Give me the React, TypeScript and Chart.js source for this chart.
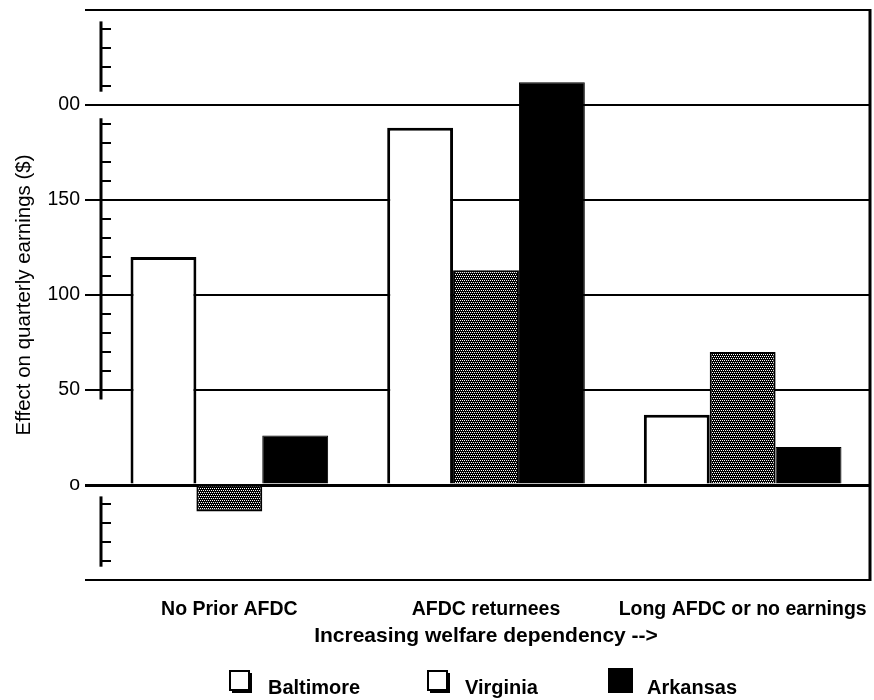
import React, { useEffect, useRef } from 'react';
import { Chart, registerables } from 'chart.js';

Chart.register(...registerables);

const categories = ['No Prior AFDC', 'AFDC returnees', 'Long AFDC or no earnings'];
const seriesNames = ['Baltimore', 'Virginia', 'Arkansas'];
const baltimore = [120, 188, 37];
const virginia = [-14, 113, 70];
const arkansas = [26, 212, 20];
const yTickValues = [0, 50, 100, 150, 200];
const yTickLabels = ['o', '50', '100', '150', '00'];
const yTitle = 'Effect on quarterly earnings ($)';
const xTitle = 'Increasing welfare dependency -->';
// value ranges where the (broken, scanned) left axis line is visible
const axisSegments = [
  [-43, -6],
  [45, 193],
  [207, 244],
];
const minorStep = 10;

const FONT = '"Liberation Sans", Arial, Helvetica, sans-serif';

function makeHatch(): CanvasPattern | string {
  const c = document.createElement('canvas');
  c.width = 4;
  c.height = 4;
  const g = c.getContext('2d');
  if (!g) return '#444';
  g.fillStyle = '#000';
  g.fillRect(0, 0, 4, 4);
  g.fillStyle = '#fff';
  g.fillRect(0, 0, 1, 1);
  g.fillRect(2, 0, 1, 1);
  g.fillRect(1, 2, 1, 1);
  g.fillRect(3, 2, 1, 1);
  return g.createPattern(c, 'repeat') || '#444';
}

const decorPlugin = {
  id: 'decor',
  afterDraw(chart: any) {
    const { ctx, chartArea } = chart;
    const y = chart.scales.y;
    ctx.save();
    ctx.strokeStyle = '#000';
    ctx.lineCap = 'butt';
    // left axis segments
    ctx.lineWidth = 3;
    const ax = chartArea.left;
    for (const [a, b] of axisSegments) {
      ctx.beginPath();
      ctx.moveTo(ax, y.getPixelForValue(a));
      ctx.lineTo(ax, y.getPixelForValue(b));
      ctx.stroke();
    }
    // minor ticks
    ctx.lineWidth = 2;
    for (const [a, b] of axisSegments) {
      const start = Math.ceil(a / minorStep) * minorStep;
      for (let v = start; v <= b; v += minorStep) {
        if (v % 50 === 0) continue;
        const py = Math.round(y.getPixelForValue(v));
        ctx.beginPath();
        ctx.moveTo(ax, py);
        ctx.lineTo(ax + 10, py);
        ctx.stroke();
      }
    }
    // right border
    ctx.lineWidth = 3;
    ctx.beginPath();
    ctx.moveTo(chartArea.right - 1, chartArea.top - 1);
    ctx.lineTo(chartArea.right - 1, chartArea.bottom + 1);
    ctx.stroke();

    // legend
    ctx.font = `bold 20px ${FONT}`;
    ctx.textBaseline = 'alphabetic';
    ctx.textAlign = 'left';
    ctx.fillStyle = '#000';
    const boxes = [
      { x: 229, y: 670, text: 268, solid: false },
      { x: 427, y: 670, text: 465, solid: false },
      { x: 608, y: 668, text: 647, solid: true },
    ];
    boxes.forEach((b, i) => {
      if (b.solid) {
        ctx.fillStyle = '#000';
        ctx.fillRect(b.x, b.y, 25, 25);
      } else {
        ctx.fillStyle = '#000';
        ctx.fillRect(b.x + 3, b.y + 3, 20, 20);
        ctx.fillStyle = '#fff';
        ctx.fillRect(b.x, b.y, 20, 20);
        ctx.lineWidth = 2;
        ctx.strokeRect(b.x + 1, b.y + 1, 19, 19);
      }
      ctx.fillStyle = '#000';
      ctx.fillText(seriesNames[i], b.text, 694);
    });
    ctx.restore();
  },
};

export default function App() {
  const ref = useRef<HTMLCanvasElement | null>(null);

  useEffect(() => {
    if (!ref.current) return;
    Chart.defaults.font.family = FONT;
    const hatch = makeHatch();
    const chart = new Chart(ref.current, {
      type: 'bar',
      data: {
        labels: categories,
        datasets: [
          {
            label: seriesNames[0],
            data: baltimore,
            backgroundColor: '#fff',
            borderColor: '#000',
            borderWidth: 3,
          },
          {
            label: seriesNames[1],
            data: virginia,
            backgroundColor: hatch as any,
            borderColor: '#000',
            borderWidth: 2,
          },
          {
            label: seriesNames[2],
            data: arkansas,
            backgroundColor: '#000',
            borderColor: '#000',
            borderWidth: 1,
          },
        ],
      },
      options: {
        animation: false,
        responsive: false,
        devicePixelRatio: 1,
        layout: { padding: { left: 0, right: 3, top: 10, bottom: 0 } },
        datasets: { bar: { barPercentage: 1, categoryPercentage: 0.77 } },
        plugins: { legend: { display: false }, tooltip: { enabled: false } },
        scales: {
          x: {
            grid: { display: false, drawTicks: false },
            border: { display: false },
            ticks: {
              color: '#000',
              font: { size: 19.5, weight: 'bold' },
              padding: 18,
              maxRotation: 0,
              autoSkip: false,
            },
            title: {
              display: true,
              text: xTitle,
              color: '#000',
              font: { size: 21, weight: 'bold' },
              padding: { top: 0, bottom: 51 },
            },
            afterFit: (s: any) => {
              s.height = 120;
              s.paddingLeft = 0;
              s.paddingRight = 0;
            },
          },
          y: {
            min: -50,
            max: 250,
            ticks: {
              stepSize: 50,
              color: '#000',
              font: { size: 19.5 },
              padding: 5,
              autoSkip: false,
              callback: (v: any) => {
                const i = yTickValues.indexOf(Number(v));
                return i >= 0 ? yTickLabels[i] : '';
              },
            },
            grid: {
              color: '#000',
              lineWidth: (c: any) => (c.tick && c.tick.value === 0 ? 3 : 2),
              tickLength: 16,
              drawTicks: true,
            },
            border: { display: false },
            title: {
              display: true,
              text: yTitle,
              color: '#000',
              font: { size: 20.5 },
              padding: { top: 12, bottom: 0 },
            },
            afterFit: (s: any) => {
              s.width = 101;
              s.paddingTop = 0;
              s.paddingBottom = 0;
            },
          },
        },
      } as any,
      plugins: [decorPlugin],
    });
    return () => chart.destroy();
  }, []);

  return (
    <div style={{ position: 'absolute', left: 0, top: 0, width: 874, height: 700, background: '#fff' }}>
      <canvas ref={ref} width={874} height={700} style={{ display: 'block' }} />
    </div>
  );
}
